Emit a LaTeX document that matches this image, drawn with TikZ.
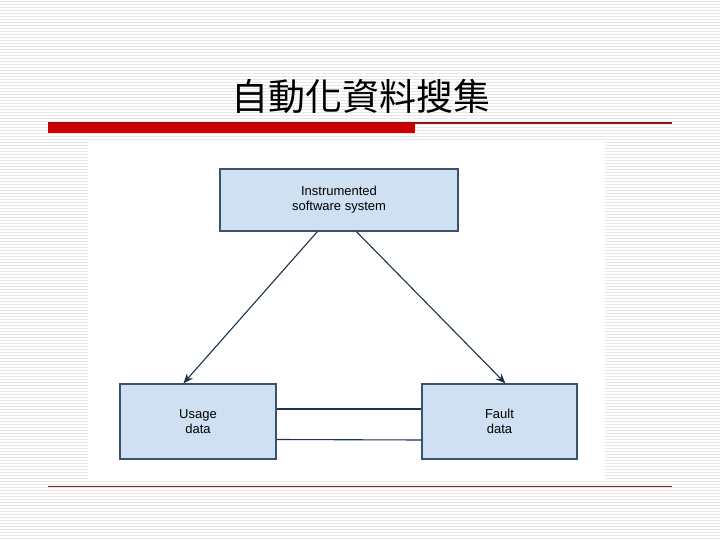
\documentclass[tikz,border=0pt]{standalone}
\usepackage{fontspec}
\setmainfont{Liberation Sans}
\newfontfamily\cjk{Noto Sans CJK TC}
\usetikzlibrary{arrows.meta,calc}
\definecolor{stripe}{RGB}{230,230,230}
\definecolor{boxfill}{RGB}{207,224,242}
\definecolor{boxline}{RGB}{58,82,108}
\definecolor{arrowc}{RGB}{28,50,78}
\definecolor{barred}{RGB}{204,0,0}
\definecolor{maroon}{RGB}{130,30,30}
\tikzset{
  box/.style={draw=boxline, fill=boxfill, line width=1.2pt, align=center,
    font=\fontsize{13}{15}\selectfont, inner sep=0pt},
  conn/.style={draw=arrowc, line width=1.1pt},
  tip/.style={conn, -{Stealth[length=10pt,width=8pt]}}
}
\begin{document}
\begin{tikzpicture}[x=1pt,y=-1pt]
\useasboundingbox (0,0) rectangle (720,540);
\fill[white] (0,0) rectangle (720,540);
\foreach \i in {0,...,179} \fill[stripe] (0,\i*3+0.8) rectangle (720,\i*3+2.2);
% title
\node[font=\cjk\fontsize{37}{40}\selectfont, inner sep=0pt] (title) at (361,96) {自動化資料搜集};
\fill[maroon] (48,122) rectangle (672,124);
\fill[barred] (48,123) rectangle (415,133);
% image area
\fill[white] (88,140) rectangle (605,479);
\fill[maroon] (48,485.5) rectangle (672,487);
% boxes
\node[box, minimum width=238pt, minimum height=62pt] (sys) at (339,200) {Instrumented\\software system};
\node[box, minimum width=156pt, minimum height=75pt] (usage) at (198,421.5) {Usage\\data};
\node[box, minimum width=155pt, minimum height=75pt] (fault) at (499.5,421.5) {Fault\\data};
% connectors
\draw[tip] ($(sys.south west)+(98,0)$) -- ($(usage.north west)+(64,0)$);
\draw[tip] ($(sys.south west)+(137,0)$) -- ($(fault.north west)+(84,0)$);
\draw[conn] ([yshift=12.5pt]usage.east) -- ([yshift=12.5pt]fault.west);
\draw[conn] ([yshift=-18pt]usage.east) -- ([yshift=-18.5pt]fault.west);
\end{tikzpicture}
\end{document}
